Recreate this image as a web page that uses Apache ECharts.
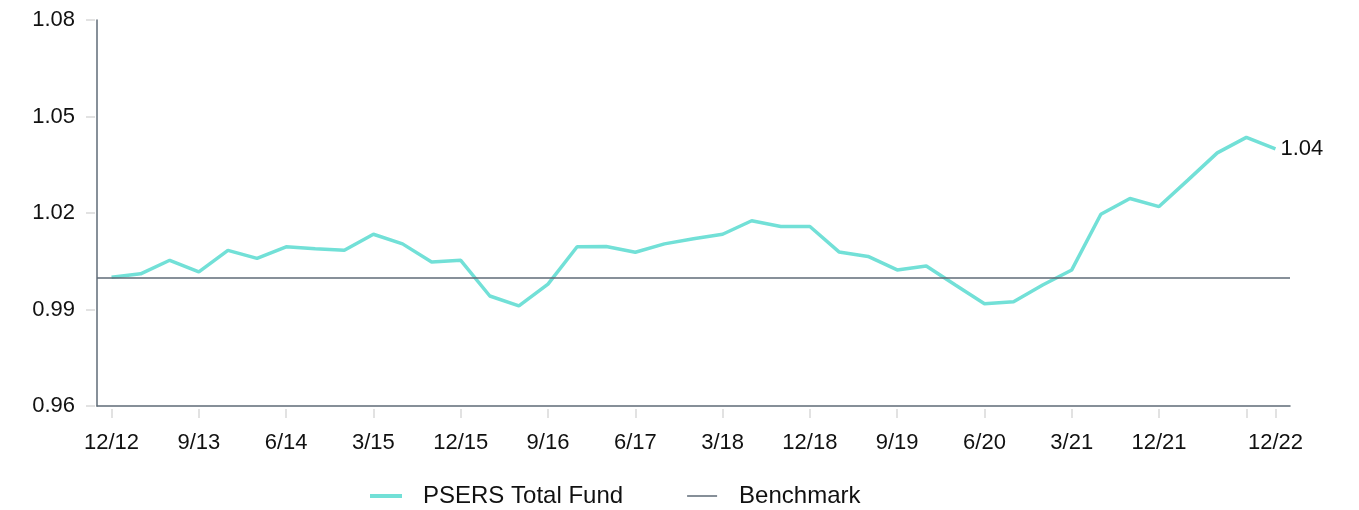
<!DOCTYPE html>
<html>
<head>
<meta charset="utf-8">
<script src="https://cdn.jsdelivr.net/npm/echarts@6/dist/echarts.min.js"></script>
<style>
  html, body {margin: 0; padding: 0; background: #fff;}
  #main {width: 1359px; height: 510px;}
</style>
</head>
<body>
<div id="main"></div>
<script>
// quarter ends, 12/12 .. 12/22
var quarters = [];
for (var yr = 12; yr <= 22; yr++) {
    ['3', '6', '9', '12'].forEach(function (m) {
        if ((yr === 12 && m !== '12')) return;
        quarters.push(m + '/' + yr);
    });
}

var fundValues = [
    1.0000, 1.0011, 1.0053, 1.0017, 1.0084, 1.0059, 1.0095, 1.0089, 1.0084, 1.0134,
    1.0104, 1.0048, 1.0053, 0.9942, 0.9911, 0.9979, 1.0095, 1.0096, 1.0078, 1.0104,
    1.0120, 1.0134, 1.0176, 1.0158, 1.0158, 1.0079, 1.0065, 1.0023, 1.0035, 0.9976,
    0.9918, 0.9924, 0.9976, 1.0023, 1.0196, 1.0245, 1.0220, 1.0303, 1.0387, 1.0435,
    1.0399
];
var benchmarkValue = 1.0;
var yTicks = [0.96, 0.99, 1.02, 1.05, 1.08];

var fontFam = '"Liberation Sans", Arial, sans-serif';
var lastIdx = quarters.length - 1;
var fundColor = '#72e0d7';
var benchColor = '#5f6b77';

// label every 3rd quarter plus the final one
function showLabel(i) {
    return (i % 3 === 0 && i !== lastIdx - 1) || i === lastIdx;
}
function showTick(i) {
    return i % 3 === 0 || i === lastIdx;
}

var myChart = echarts.init(document.getElementById('main'), null, {renderer: 'canvas'});

var option = {
    animation: false,
    textStyle: {fontFamily: fontFam},
    grid: {left: 97, right: 69, top: 20, bottom: 104, containLabel: false},
    legend: {
        top: 479,
        left: 365,
        itemWidth: 32,
        itemHeight: 4,
        itemGap: 64,
        textStyle: {fontSize: 24, color: '#111', fontFamily: fontFam, padding: [0, 0, 0, 16]},
        data: [
            {name: 'PSERS Total Fund', icon: 'rect', itemStyle: {color: fundColor}},
            {name: 'Benchmark', icon: 'path://M0,0H30V0.01H0Z M0,1.2H30V2.8H0Z M0,3.99H30V4H0Z', itemStyle: {color: benchColor}}
        ]
    },
    xAxis: [{
        type: 'category',
        data: quarters,
        boundaryGap: true,
        offset: 3,
        axisLine: {show: false},
        axisTick: {show: true, alignWithLabel: true, interval: function (i) { return showTick(i); }, length: 9, lineStyle: {color: '#d9d9d9', width: 1.5}},
        axisLabel: {interval: function (i) { return showLabel(i); }, fontSize: 22, color: '#111', margin: 23, fontFamily: fontFam},
        splitLine: {show: false}
    }, {
        type: 'category',
        data: quarters,
        boundaryGap: true,
        position: 'bottom',
        axisLine: {show: true, lineStyle: {color: benchColor, width: 1.5}},
        axisTick: {show: false},
        axisLabel: {show: false},
        splitLine: {show: false}
    }],
    yAxis: [{
        type: 'value',
        min: yTicks[0],
        max: yTicks[yTicks.length - 1],
        interval: 0.03,
        offset: 2,
        axisLine: {show: false},
        axisTick: {show: true, length: 9, lineStyle: {color: '#d9d9d9', width: 1.5}},
        axisLabel: {fontSize: 22, color: '#111', margin: 20, fontFamily: fontFam, formatter: function (v) { return v.toFixed(2); }},
        splitLine: {show: false}
    }, {
        type: 'value',
        min: yTicks[0],
        max: yTicks[yTicks.length - 1],
        interval: 0.03,
        position: 'left',
        axisLine: {show: true, lineStyle: {color: benchColor, width: 1.5}},
        axisTick: {show: false},
        axisLabel: {show: false},
        splitLine: {show: false}
    }],
    series: [{
        name: 'Benchmark',
        type: 'line',
        data: [],
        symbol: 'none',
        color: benchColor,
        lineStyle: {color: benchColor, width: 1.5},
        markLine: {
            silent: true,
            symbol: 'none',
            label: {show: false},
            lineStyle: {color: benchColor, width: 1.5, type: 'solid'},
            data: [{yAxis: benchmarkValue}]
        }
    }, {
        name: 'PSERS Total Fund',
        type: 'line',
        data: fundValues,
        symbol: 'none',
        color: fundColor,
        lineStyle: {color: fundColor, width: 3.5},
        endLabel: {
            show: true,
            distance: 5,
            fontSize: 22,
            color: '#111',
            fontFamily: fontFam,
            formatter: function (p) { return p.value.toFixed(2); }
        },
        z: 3
    }]
};

myChart.setOption(option);
</script>
</body>
</html>
